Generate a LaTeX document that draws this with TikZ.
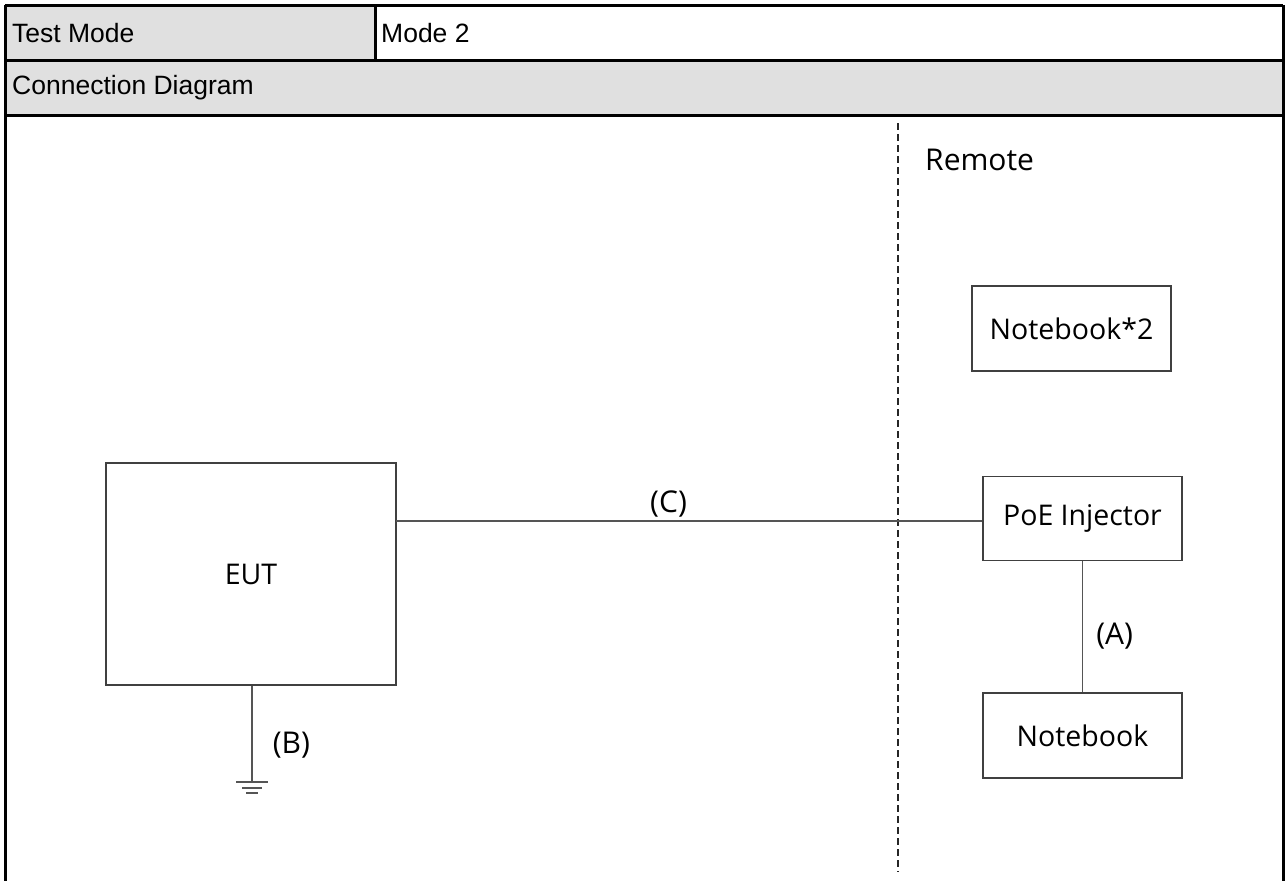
\documentclass[tikz,border=0pt]{standalone}
\usepackage{fontspec}
\setmainfont{Open Sans}
\newfontfamily\hdrfont{Liberation Sans}
\definecolor{hdrgray}{HTML}{E0E0E0}
\definecolor{linegray}{HTML}{555555}
\tikzstyle{hdr}=[anchor=west,inner sep=0pt,font=\hdrfont\fontsize{26.5}{31}\selectfont]
\tikzstyle{unit}=[rectangle,draw=black!75,line width=1.6pt,font=\fontsize{28.5}{33}\selectfont]
\tikzstyle{cable}=[draw=linegray,line width=1.6pt]
\tikzstyle{lbl}=[inner sep=0pt,font=\fontsize{30}{35}\selectfont]

\begin{document}
\begin{tikzpicture}[x=1pt,y=-1pt]
\useasboundingbox (0,0) rectangle (1288,881);
\fill[hdrgray] (5,5) rectangle (375,60);
\fill[hdrgray] (5,60) rectangle (1283,115);
\draw[line width=3pt] (5,5) -- (1283,5) (5,60) -- (1283,60) (5,115) -- (1283,115);
\draw[line width=3pt] (5,5) -- (5,881) (1283,5) -- (1283,881) (375,5) -- (375,60);
\node[hdr] at (12, 33) (tm) {Test Mode};
\node[hdr] at (381, 33) (mode) {Mode 2};
\node[hdr] at (12, 88) (cd) {Connection Diagram};

\coordinate (dtop) at (898, 123);
\coordinate (dbot) at (898, 872);
\draw[black!85, line width=1.5pt, dash pattern=on 7pt off 4pt] (dtop) -- (dbot);
\node[lbl, anchor=west] at (925, 160) (remote) {Remote};

\node[unit, minimum width=199pt, minimum height=85pt] at (1071.5, 328.5) (nb2) {Notebook*2};
\node[unit, minimum width=199pt, minimum height=84pt] at (1082.5, 518.5) (poe) {PoE Injector};
\node[unit, minimum width=199pt, minimum height=85pt] at (1082.5, 735.5) (nb) {Notebook};
\node[unit, minimum width=290pt, minimum height=222pt] at (251, 574) (eut) {EUT};

\coordinate (cend) at (396, 521);
\draw[cable] (cend) -- (cend -| poe.west) node[lbl, pos=0.465, above=3pt] {(C)};
\draw[cable] (poe.south) -- (nb.north) node[lbl, pos=0.57, right=13pt] {(A)};
\coordinate (gnd) at (252, 782);
\draw[cable] (eut.south -| gnd) -- (gnd) node[lbl, pos=0.62, right=20pt] {(B)};
\draw[cable] ([xshift=-16pt]gnd) -- ([xshift=16pt]gnd);
\draw[cable] ([xshift=-10pt,yshift=-6pt]gnd) -- ([xshift=10pt,yshift=-6pt]gnd);
\draw[cable] ([xshift=-6pt,yshift=-11pt]gnd) -- ([xshift=6pt,yshift=-11pt]gnd);
\end{tikzpicture}
\end{document}
